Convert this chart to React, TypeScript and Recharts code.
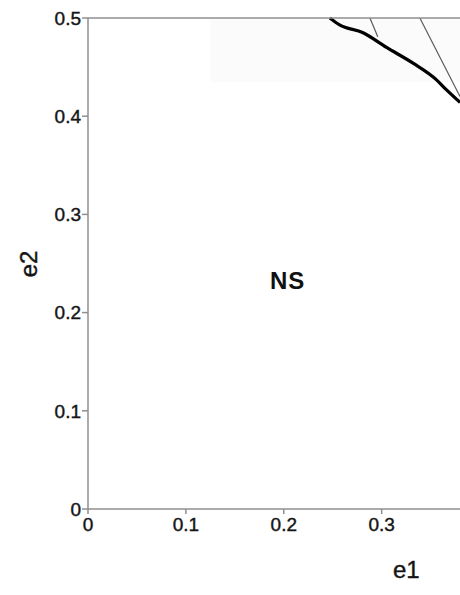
import {
  ComposedChart,
  Line,
  ReferenceArea,
  ReferenceDot,
  XAxis,
  YAxis,
} from "recharts";

// stability boundary (thick curve)
const boundaryE1 = [0.247, 0.257, 0.281, 0.305, 0.332, 0.356, 0.366, 0.38];
const boundaryE2 = [0.5, 0.493, 0.485, 0.47, 0.454, 0.437, 0.427, 0.414];

// thin guide lines
const guideAE1 = [0.288, 0.296];
const guideAE2 = [0.5, 0.481];
const guideBE1 = [0.339, 0.38];
const guideBE2 = [0.5, 0.42];

const xTicks = [0, 0.1, 0.2, 0.3];
const yTicks = [0, 0.1, 0.2, 0.3, 0.4, 0.5];

const toPoints = (xs: number[], ys: number[]) =>
  xs.map((e1, i) => ({ e1, e2: ys[i] }));

const boundary = toPoints(boundaryE1, boundaryE2);
const guideA = toPoints(guideAE1, guideAE2);
const guideB = toPoints(guideBE1, guideBE2);

const AXIS = "#8f8f8f";
const FONT = "'Liberation Sans', Arial, sans-serif";
const tickStyle = {
  fill: "#141414",
  fontSize: 19,
  fontFamily: FONT,
  stroke: "#141414",
  strokeWidth: 0.4,
};

export default function App() {
  return (
    <div
      style={{
        position: "absolute",
        left: 0,
        top: 0,
        width: 460,
        height: 595,
        background: "#fff",
        fontFamily: FONT,
      }}
    >
      <ComposedChart
        width={460}
        height={595}
        margin={{ top: 0, right: 0, bottom: 0, left: 0 }}
      >
        <XAxis
          xAxisId="bottom"
          type="number"
          dataKey="e1"
          domain={[0, 0.38]}
          ticks={xTicks}
          allowDataOverflow
          orientation="bottom"
          height={86}
          stroke={AXIS}
          strokeWidth={1.5}
          fontSize={19}
          tickSize={5}
          tickMargin={4}
          tick={tickStyle}
          tickFormatter={(v) => String(v)}
        />
        <XAxis
          xAxisId="top"
          type="number"
          dataKey="e1"
          domain={[0, 0.38]}
          ticks={[0.1, 0.2, 0.3]}
          allowDataOverflow
          orientation="top"
          height={18}
          stroke={AXIS}
          strokeWidth={1.5}
          tickSize={6}
          tick={false}
        />
        <YAxis
          type="number"
          dataKey="e2"
          domain={[0, 0.5]}
          ticks={yTicks}
          width={88}
          stroke={AXIS}
          strokeWidth={1.5}
          fontSize={19}
          tickSize={6}
          tickMargin={1}
          tick={tickStyle}
          tickFormatter={(v) => String(v)}
        />
        <ReferenceArea
          xAxisId="bottom"
          x1={0.125}
          x2={0.38}
          y1={0.435}
          y2={0.5}
          fill="#fbfbfb"
          fillOpacity={1}
          stroke="none"
        />
        <Line
          xAxisId="bottom"
          data={guideA}
          dataKey="e2"
          type="linear"
          stroke="#5a5a5a"
          strokeWidth={1.2}
          dot={false}
          isAnimationActive={false}
        />
        <Line
          xAxisId="bottom"
          data={guideB}
          dataKey="e2"
          type="linear"
          stroke="#5a5a5a"
          strokeWidth={1.2}
          dot={false}
          isAnimationActive={false}
        />
        <Line
          xAxisId="bottom"
          data={boundary}
          dataKey="e2"
          type="monotone"
          stroke="#000"
          strokeWidth={3.2}
          dot={false}
          isAnimationActive={false}
        />
        <ReferenceDot
          xAxisId="bottom"
          x={0.204}
          y={0.233}
          r={0}
          stroke="none"
          label={{
            value: "NS",
            position: "center",
            fill: "#111",
            fontSize: 24,
            fontWeight: "bold",
            letterSpacing: 1,
            fontFamily: FONT,
          }}
        />
      </ComposedChart>
      <div
        style={{
          position: "absolute",
          left: 393,
          top: 556,
          fontSize: 24,
          color: "#141414",
          lineHeight: "28px",
          WebkitTextStroke: "0.4px #141414",
        }}
      >
        e1
      </div>
      <div
        style={{
          position: "absolute",
          left: 12,
          top: 250,
          width: 34,
          height: 28,
          fontSize: 24,
          color: "#141414",
          lineHeight: "28px",
          textAlign: "center",
          transform: "rotate(-90deg)",
          WebkitTextStroke: "0.4px #141414",
        }}
      >
        e2
      </div>
    </div>
  );
}
